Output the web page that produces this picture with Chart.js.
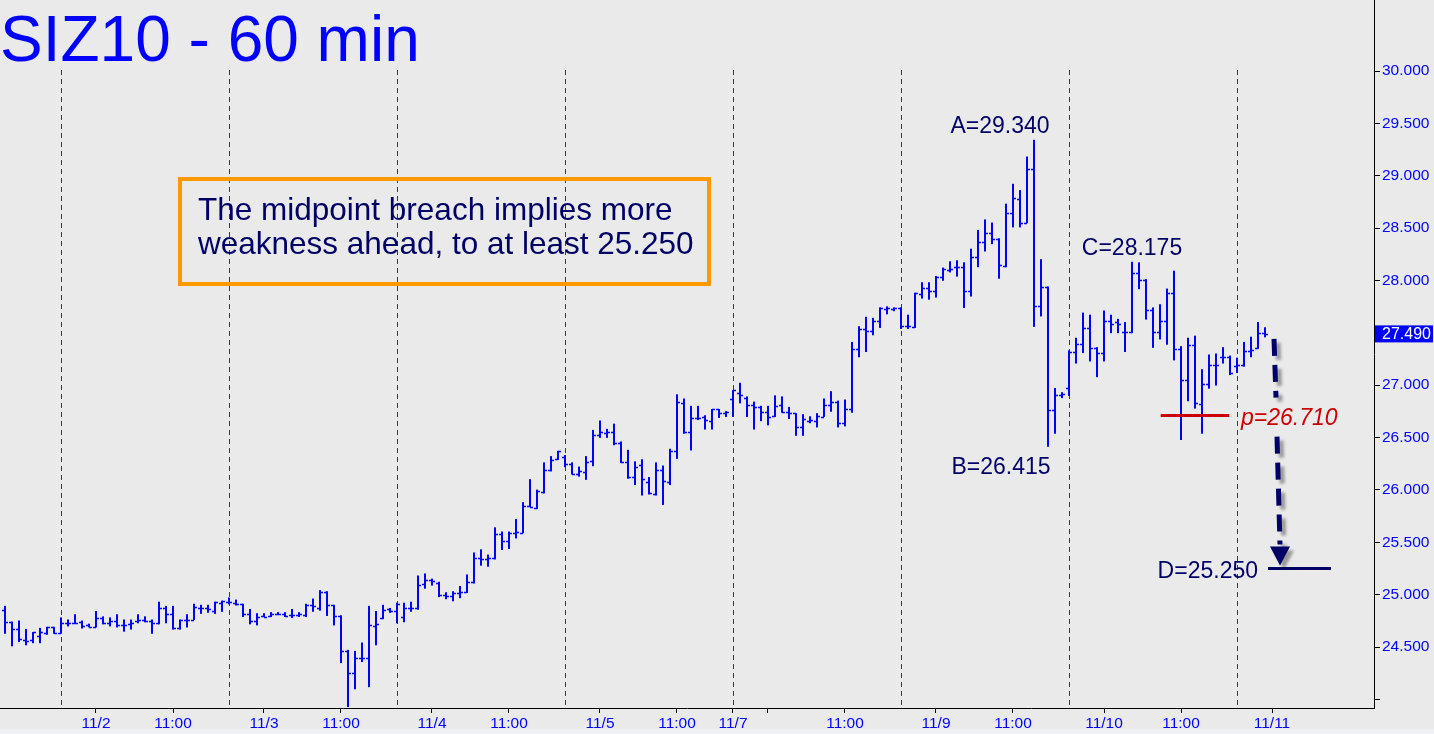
<!DOCTYPE html>
<html>
<head>
<meta charset="utf-8">
<title>SIZ10 - 60 min</title>
<script src="https://cdn.jsdelivr.net/npm/chart.js@4.4.1/dist/chart.umd.min.js"></script>
<style>
  html, body { margin: 0; padding: 0; background: #eaeaea; overflow: hidden; }
  #c { display: block; }
</style>
</head>
<body>
<canvas id="c" width="1434" height="734"></canvas>
<script>
// ----------------- DATA -----------------
// hourly bars, index 0 = first bar on the left
const opens = [
  24.85, 24.74, 24.67, 24.57, 24.57, 24.61, 24.63, 24.69, 24.63, 24.73,
  24.73, 24.74, 24.71, 24.69, 24.78, 24.73, 24.75, 24.71, 24.72, 24.75,
  24.76, 24.75, 24.73, 24.87, 24.82, 24.68, 24.76, 24.76, 24.87, 24.87,
  24.84, 24.92, 24.93, 24.92, 24.91, 24.82, 24.75, 24.80, 24.80, 24.82,
  24.82, 24.81, 24.81, 24.81, 24.90, 24.87, 25.03, 24.90, 24.80, 24.46,
  24.25, 24.40, 24.40, 24.70, 24.78, 24.86, 24.84, 24.79, 24.87, 24.87,
  25.10, 25.14, 25.11, 25.00, 24.99, 25.02, 25.03, 25.12, 25.35, 25.34,
  25.35, 25.58, 25.51, 25.59, 25.59, 25.85, 25.83, 25.98, 26.19, 26.30,
  26.31, 26.25, 26.15, 26.17, 26.28, 26.52, 26.54, 26.55, 26.45, 26.27,
  26.12, 26.24, 26.08, 25.96, 26.19, 26.08, 26.37, 26.83, 26.55, 26.69,
  26.70, 26.66, 26.77, 26.73, 26.87, 26.93, 26.88, 26.81, 26.79, 26.74,
  26.71, 26.81, 26.74, 26.73, 26.60, 26.66, 26.66, 26.70, 26.81, 26.84,
  26.64, 26.77, 27.35, 27.54, 27.52, 27.61, 27.73, 27.73, 27.74, 27.57,
  27.56, 27.87, 27.93, 27.90, 28.03, 28.10, 28.13, 28.13, 27.90, 28.22,
  28.37, 28.45, 28.40, 28.14, 28.64, 28.78, 28.55, 29.06, 27.76, 27.94,
  26.76, 26.91, 26.97, 27.32, 27.39, 27.55, 27.36, 27.31, 27.61, 27.60,
  27.51, 27.51, 28.07, 28.00, 27.72, 27.51, 27.61, 27.88, 27.35, 27.05,
  27.38, 26.82, 27.01, 27.19, 27.27, 27.27, 27.18, 27.19, 27.33, 27.36,
  27.50
];
const highs = [
  24.89, 24.74, 24.75, 24.67, 24.64, 24.68, 24.69, 24.69, 24.78, 24.76,
  24.81, 24.75, 24.72, 24.84, 24.79, 24.78, 24.81, 24.76, 24.76, 24.81,
  24.79, 24.76, 24.93, 24.89, 24.89, 24.76, 24.81, 24.91, 24.90, 24.90,
  24.93, 24.94, 24.97, 24.95, 24.91, 24.86, 24.82, 24.82, 24.83, 24.83,
  24.83, 24.86, 24.83, 24.91, 24.96, 25.04, 25.03, 24.90, 24.80, 24.47,
  24.46, 24.54, 24.89, 24.84, 24.90, 24.87, 24.92, 24.92, 24.93, 25.18,
  25.20, 25.15, 25.12, 25.02, 25.03, 25.08, 25.19, 25.40, 25.43, 25.38,
  25.64, 25.60, 25.60, 25.72, 25.88, 26.10, 26.00, 26.26, 26.32, 26.37,
  26.33, 26.26, 26.22, 26.32, 26.57, 26.66, 26.58, 26.63, 26.46, 26.38,
  26.27, 26.29, 26.12, 26.26, 26.23, 26.39, 26.91, 26.87, 26.80, 26.80,
  26.71, 26.77, 26.77, 26.75, 26.95, 27.02, 26.89, 26.84, 26.80, 26.80,
  26.90, 26.89, 26.79, 26.73, 26.72, 26.70, 26.73, 26.87, 26.94, 26.85,
  26.86, 27.41, 27.56, 27.65, 27.64, 27.74, 27.75, 27.74, 27.74, 27.67,
  27.88, 27.98, 27.98, 28.04, 28.12, 28.18, 28.19, 28.17, 28.30, 28.48,
  28.58, 28.55, 28.40, 28.73, 28.92, 28.86, 29.18, 29.34, 28.20, 27.94,
  26.97, 26.93, 27.33, 27.45, 27.69, 27.67, 27.36, 27.71, 27.67, 27.63,
  27.60, 28.175, 28.17, 28.01, 27.74, 27.77, 27.92, 28.09, 27.37, 27.45,
  27.47, 27.15, 27.29, 27.30, 27.36, 27.28, 27.26, 27.41, 27.46, 27.60,
  27.55
];
const lows = [
  24.63, 24.51, 24.55, 24.52, 24.54, 24.54, 24.62, 24.63, 24.63, 24.70,
  24.73, 24.68, 24.69, 24.69, 24.72, 24.70, 24.69, 24.65, 24.67, 24.73,
  24.74, 24.63, 24.72, 24.73, 24.67, 24.67, 24.69, 24.76, 24.82, 24.83,
  24.82, 24.84, 24.91, 24.90, 24.79, 24.72, 24.71, 24.79, 24.79, 24.81,
  24.79, 24.78, 24.79, 24.79, 24.84, 24.85, 24.80, 24.71, 24.35, 23.93,
  24.10, 24.36, 24.12, 24.52, 24.77, 24.83, 24.73, 24.74, 24.84, 24.86,
  25.06, 25.09, 24.98, 24.96, 24.94, 24.97, 25.02, 25.11, 25.28, 25.27,
  25.34, 25.43, 25.44, 25.54, 25.59, 25.84, 25.82, 25.97, 26.18, 26.29,
  26.22, 26.15, 26.13, 26.10, 26.23, 26.50, 26.50, 26.43, 26.26, 26.11,
  26.05, 25.95, 25.96, 25.95, 25.86, 26.05, 26.30, 26.54, 26.38, 26.67,
  26.58, 26.58, 26.69, 26.70, 26.70, 26.83, 26.70, 26.58, 26.66, 26.62,
  26.70, 26.74, 26.68, 26.52, 26.52, 26.64, 26.60, 26.70, 26.75, 26.60,
  26.61, 26.74, 27.27, 27.32, 27.48, 27.55, 27.68, 27.71, 27.54, 27.54,
  27.55, 27.83, 27.82, 27.84, 28.00, 28.08, 28.04, 27.74, 27.85, 28.13,
  28.28, 28.35, 28.02, 28.13, 28.51, 28.51, 28.55, 27.56, 27.66, 26.415,
  26.54, 26.88, 26.90, 27.21, 27.31, 27.23, 27.08, 27.23, 27.50, 27.50,
  27.32, 27.50, 27.92, 27.63, 27.36, 27.44, 27.39, 27.24, 26.48, 26.85,
  26.78, 26.54, 26.97, 27.00, 27.21, 27.10, 27.12, 27.18, 27.27, 27.35,
  27.46
];
const closes = [
  24.74, 24.67, 24.58, 24.56, 24.64, 24.64, 24.69, 24.63, 24.73, 24.73,
  24.73, 24.70, 24.69, 24.78, 24.73, 24.75, 24.71, 24.71, 24.73, 24.76,
  24.75, 24.73, 24.87, 24.82, 24.68, 24.76, 24.76, 24.88, 24.87, 24.86,
  24.93, 24.94, 24.93, 24.91, 24.82, 24.75, 24.79, 24.79, 24.82, 24.82,
  24.80, 24.81, 24.82, 24.90, 24.89, 25.03, 24.90, 24.80, 24.46, 24.25,
  24.40, 24.40, 24.71, 24.72, 24.85, 24.84, 24.91, 24.87, 24.87, 25.09,
  25.14, 25.13, 25.00, 24.99, 25.02, 25.03, 25.12, 25.35, 25.34, 25.35,
  25.58, 25.51, 25.59, 25.60, 25.85, 25.84, 25.99, 26.19, 26.29, 26.37,
  26.25, 26.15, 26.18, 26.27, 26.52, 26.55, 26.55, 26.45, 26.27, 26.12,
  26.22, 26.10, 25.97, 26.19, 26.09, 26.37, 26.84, 26.55, 26.69, 26.69,
  26.67, 26.77, 26.73, 26.74, 26.95, 26.91, 26.81, 26.79, 26.74, 26.70,
  26.80, 26.74, 26.73, 26.60, 26.68, 26.67, 26.71, 26.81, 26.84, 26.64,
  26.77, 27.35, 27.54, 27.52, 27.61, 27.74, 27.74, 27.74, 27.57, 27.57,
  27.88, 27.93, 27.90, 28.03, 28.11, 28.11, 28.13, 27.90, 28.22, 28.37,
  28.45, 28.40, 28.15, 28.64, 28.79, 28.55, 29.06, 27.76, 27.94, 26.76,
  26.91, 26.92, 27.32, 27.39, 27.55, 27.36, 27.31, 27.61, 27.58, 27.58,
  27.51, 28.07, 28.00, 27.72, 27.51, 27.61, 27.88, 27.35, 27.05, 27.38,
  26.83, 27.01, 27.19, 27.19, 27.27, 27.12, 27.19, 27.33, 27.34, 27.50,
  27.49
];

// x axis: bar index of each labelled tick
const xTickIdx = [13, 24, 37, 48, 61, 72, 85, 96, 104, 109, 120, 133, 144, 157, 168, 181];
const xTickLabels = ['11/2', '11:00', '11/3', '11:00', '11/4', '11:00', '11/5', '11:00',
                     '11/7', '', '11:00', '11/9', '11:00', '11/10', '11:00', '11/11'];
// session start bars (dashed separators)
const sessionIdx = [8, 32, 56, 80, 104, 128, 152, 176];

// y axis
const yTickVals = [24.0, 24.5, 25.0, 25.5, 26.0, 26.5, 27.0, 27.5, 28.0, 28.5, 29.0, 29.5, 30.0];
const yTickLabels = ['', '24.500', '25.000', '25.500', '26.000', '26.500', '27.000',
                     '27.500', '28.000', '28.500', '29.000', '29.500', '30.000'];

// ABCD pattern
const pointNames = ['A', 'B', 'C'];
const pointIdx = [147, 149, 161];
const pointVals = [29.340, 26.415, 28.175];
const pivotP = 26.710;
const targetD = 25.250;
const lastPrice = 27.490;

const titleText = 'SIZ10 - 60 min';
const noteLines = ['The midpoint breach implies more', 'weakness ahead, to at least 25.250'];

// ----------------- STYLE -----------------
const FONT = '"Liberation Sans", Arial, Helvetica, sans-serif';
const BLUE = '#0000ff';
const NAVY = '#000066';
const BG = '#eaeaea';

const bars = opens.map((o, i) => ({ x: i, y: [lows[i], highs[i]] }));

// helper plugin: background, session lines, open/close ticks, annotations
const chartDecor = {
  id: 'chartDecor',
  beforeDraw(chart) {
    const c = chart.ctx;
    c.save();
    c.fillStyle = BG;
    c.fillRect(0, 0, chart.width, chart.height);
    c.fillStyle = '#eef2f7';
    c.fillRect(0, 729, chart.width, 5);
    c.restore();
  },
  beforeDatasetsDraw(chart) {
    const c = chart.ctx, xs = chart.scales.x, ys = chart.scales.y;
    const top = ys.getPixelForValue(yTickVals[yTickVals.length - 1]) - 1;
    c.save();
    c.strokeStyle = '#3a3a3a';
    c.lineWidth = 1;
    c.setLineDash([5, 4]);
    sessionIdx.forEach(i => {
      const x = Math.round(xs.getPixelForValue(i)) + 0.5;
      c.beginPath();
      c.moveTo(x, top);
      c.lineTo(x, chart.chartArea.bottom);
      c.stroke();
    });
    c.restore();
  },
  afterDatasetsDraw(chart) {
    const c = chart.ctx, ys = chart.scales.y;
    const meta = chart.getDatasetMeta(0);
    c.save();
    c.strokeStyle = BLUE;
    c.lineWidth = 1.4;
    meta.data.forEach((bar, i) => {
      const yo = Math.round(ys.getPixelForValue(opens[i])) + 0.5;
      const yc = Math.round(ys.getPixelForValue(closes[i])) + 0.5;
      c.beginPath();
      c.moveTo(bar.x - 3, yo); c.lineTo(bar.x, yo);
      c.moveTo(bar.x, yc); c.lineTo(bar.x + 3, yc);
      c.stroke();
    });
    c.restore();
  },
  afterDraw(chart) {
    const c = chart.ctx, xs = chart.scales.x, ys = chart.scales.y;
    c.save();

    // title
    c.font = '64px ' + FONT;
    c.fillStyle = BLUE;
    c.textAlign = 'left';
    c.textBaseline = 'alphabetic';
    c.fillText(titleText, 0, 61);

    // note box
    c.strokeStyle = '#ff9900';
    c.lineWidth = 4;
    c.strokeRect(180, 179, 529, 105);
    c.font = '31.5px ' + FONT;
    c.fillStyle = NAVY;
    c.fillText(noteLines[0], 198, 220);
    c.fillText(noteLines[1], 198, 254);

    // A, B, C labels
    c.font = '23px ' + FONT;
    c.textAlign = 'center';
    c.textBaseline = 'middle';
    const dx = [-34, -47, 0], dy = [-13, 21, -13];
    pointNames.forEach((n, k) => {
      c.fillText(n + '=' + pointVals[k].toFixed(3),
        xs.getPixelForValue(pointIdx[k]) + dx[k], ys.getPixelForValue(pointVals[k]) + dy[k]);
    });

    // pivot p line + label
    const yP = ys.getPixelForValue(pivotP);
    c.strokeStyle = '#cc0000';
    c.lineWidth = 3;
    c.beginPath();
    c.moveTo(xs.getPixelForValue(165.1), yP);
    c.lineTo(xs.getPixelForValue(174.9), yP);
    c.stroke();
    c.font = 'italic 23px ' + FONT;
    c.fillStyle = '#cc0000';
    c.textAlign = 'left';
    c.fillText('p=' + pivotP.toFixed(3), 1241, yP + 3);

    // target D line + label
    const yD = ys.getPixelForValue(targetD);
    const xLast = xs.getPixelForValue(opens.length - 1);
    c.strokeStyle = NAVY;
    c.beginPath();
    c.moveTo(xLast + 3, yD);
    c.lineTo(xLast + 66, yD);
    c.stroke();
    c.font = '23px ' + FONT;
    c.fillStyle = NAVY;
    c.textAlign = 'right';
    c.fillText('D=' + targetD.toFixed(3), xLast - 7, yD + 3);

    // dashed arrow with shadow
    const yStart = ys.getPixelForValue(lastPrice) + 5;
    c.shadowColor = 'rgba(0,0,0,0.35)';
    c.shadowOffsetX = 4;
    c.shadowOffsetY = 4;
    c.shadowBlur = 3;
    c.strokeStyle = NAVY;
    c.lineWidth = 5;
    c.setLineDash([17, 9]);
    c.beginPath();
    c.moveTo(xLast + 9, yStart);
    c.lineTo(xLast + 11, yP - 18);
    c.moveTo(xLast + 12, yP + 21);
    c.lineTo(xLast + 15, yD - 24);
    c.stroke();
    c.setLineDash([]);
    c.fillStyle = NAVY;
    c.beginPath();
    c.moveTo(xLast + 5, yD - 22);
    c.lineTo(xLast + 25, yD - 22);
    c.lineTo(xLast + 15, yD - 3);
    c.closePath();
    c.fill();
    c.shadowColor = 'transparent';

    // last price marker on the axis
    const yL = ys.getPixelForValue(lastPrice);
    c.fillStyle = BLUE;
    c.fillRect(chart.chartArea.right + 1, yL - 8.5, 58, 17);
    c.fillStyle = '#ffffff';
    c.font = '16px ' + FONT;
    c.textAlign = 'left';
    c.fillText(lastPrice.toFixed(3), chart.chartArea.right + 8, yL + 1);

    c.restore();
  }
};

const ctx = document.getElementById('c').getContext('2d');
new Chart(ctx, {
  type: 'bar',
  data: {
    datasets: [{
      data: bars,
      backgroundColor: BLUE,
      borderWidth: 0,
      barThickness: 1.4
    }]
  },
  options: {
    responsive: false,
    animation: false,
    devicePixelRatio: 1,
    layout: { padding: 0 },
    plugins: { legend: { display: false }, tooltip: { enabled: false } },
    scales: {
      x: {
        type: 'linear',
        offset: false,
        min: -5 / 7,
        max: 1369 / 7,
        grid: { drawOnChartArea: false, offset: false, tickLength: 5, color: '#000' },
        border: { color: '#000', width: 1 },
        afterBuildTicks: s => { s.ticks = xTickIdx.map(v => ({ value: v })); },
        afterFit: s => { s.height = 26; s.paddingLeft = 0; s.paddingRight = 0; },
        ticks: {
          autoSkip: false,
          maxRotation: 0,
          padding: 1,
          color: BLUE,
          font: { family: FONT, size: 15.5 },
          callback: (v, i) => xTickLabels[i]
        }
      },
      y: {
        position: 'right',
        min: 23.918,
        max: 30.678,
        grid: { drawOnChartArea: false, offset: false, tickLength: 6, color: '#000' },
        border: { color: '#000', width: 1 },
        afterBuildTicks: s => { s.ticks = yTickVals.map(v => ({ value: v })); },
        afterFit: s => { s.width = 60; s.paddingTop = 0; s.paddingBottom = 0; },
        ticks: {
          padding: 2,
          color: BLUE,
          font: { family: FONT, size: 15.5 },
          callback: (v, i) => yTickLabels[i]
        }
      }
    }
  },
  plugins: [chartDecor]
});
</script>
</body>
</html>
